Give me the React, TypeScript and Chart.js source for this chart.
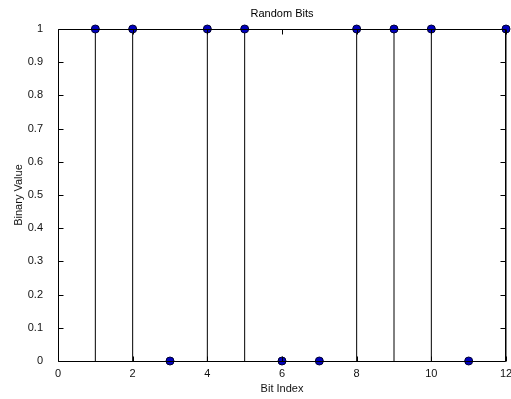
import React, { useEffect, useRef } from "react";
import { Chart, registerables } from "chart.js";

Chart.register(...registerables);

const chartTitle = "Random Bits";
const bitIndex = [1, 2, 3, 4, 5, 6, 7, 8, 9, 10, 11, 12];
const bitValues = [1, 1, 0, 1, 1, 0, 0, 1, 1, 1, 0, 1];
const xTickStep = 2;
const yTickStep = 0.1;

const FONT = "'Liberation Sans', Arial, sans-serif";

const boxTicksPlugin = {
  id: "boxTicks",
  afterDatasetsDraw(chart: any) {
    const { ctx, chartArea } = chart;
    const { left, right, top, bottom } = chartArea;
    const xs = chart.scales.x;
    const ys = chart.scales.y;
    const L = 5;
    ctx.save();
    ctx.strokeStyle = "#000";
    ctx.lineWidth = 1;
    ctx.beginPath();
    const l = Math.round(left) + 0.5;
    const r = Math.round(right) - 0.5;
    const t = Math.round(top) + 0.5;
    const b = Math.round(bottom) + 0.5;
    ctx.rect(l, t, r - l, b - t);
    for (const tk of xs.ticks) {
      const px = Math.round(xs.getPixelForValue(tk.value)) + 0.5;
      ctx.moveTo(px, b);
      ctx.lineTo(px, b - L);
      ctx.moveTo(px, t);
      ctx.lineTo(px, t + L);
    }
    for (const tk of ys.ticks) {
      const py = Math.round(ys.getPixelForValue(tk.value)) + 0.5;
      ctx.moveTo(l, py);
      ctx.lineTo(l + L, py);
      ctx.moveTo(r, py);
      ctx.lineTo(r - L, py);
    }
    ctx.stroke();
    // title centred over the plot area
    ctx.fillStyle = "#000";
    ctx.font = `11px ${FONT}`;
    ctx.textAlign = "center";
    ctx.textBaseline = "middle";
    ctx.fillText(chartTitle, (left + right) / 2, 13.5);
    ctx.restore();
  },
};

export default function App() {
  const ref = useRef<HTMLCanvasElement>(null);
  useEffect(() => {
    document.body.style.margin = "0";
    const stemSets = bitIndex.map((x, i) => ({
      type: "line" as const,
      data: [
        { x, y: 0 },
        { x, y: bitValues[i] },
      ],
      borderColor: "#000",
      borderWidth: 1,
      pointRadius: 0,
      fill: false,
      clip: false as any,
      order: 2,
    }));
    const chart = new Chart(ref.current!, {
      type: "scatter",
      data: {
        datasets: [
          ...stemSets,
          {
            type: "scatter" as const,
            data: bitIndex.map((x, i) => ({ x, y: bitValues[i] })),
            backgroundColor: "#0000c0",
            borderColor: "#000030",
            borderWidth: 1,
            pointRadius: 4,
            clip: false as any,
            order: 1,
          },
        ] as any,
      },
      options: {
        animation: false,
        responsive: false,
        layout: { padding: { left: 0, right: 4, top: 29, bottom: 0 } },
        plugins: {
          legend: { display: false },
          tooltip: { enabled: false },
          title: { display: false },
        },
        scales: {
          x: {
            type: "linear",
            min: 0,
            max: 12,
            grid: { display: false },
            border: { display: false },
            ticks: {
              stepSize: xTickStep,
              color: "#111",
              padding: -2,
              maxRotation: 0,
              font: { family: FONT, size: 11 },
            },
            title: {
              display: true,
              text: "Bit Index",
              color: "#111",
              font: { family: FONT, size: 11 },
              padding: { top: 0, bottom: 3 },
            },
            afterFit(scale: any) {
              scale.height = 38;
              scale.paddingLeft = 0;
              scale.paddingRight = 0;
            },
          },
          y: {
            type: "linear",
            min: 0,
            max: 1,
            grid: { display: false },
            border: { display: false },
            ticks: {
              stepSize: yTickStep,
              color: "#111",
              padding: 7,
              font: { family: FONT, size: 11 },
              callback: (v: any) => String(Number(Number(v).toFixed(1))),
            },
            title: {
              display: true,
              text: "Binary Value",
              color: "#111",
              font: { family: FONT, size: 11 },
              padding: { top: 12, bottom: 0 },
            },
            afterFit(scale: any) {
              scale.width = 58;
              scale.paddingTop = 0;
              scale.paddingBottom = 0;
            },
          },
        },
      },
      plugins: [boxTicksPlugin],
    });
    return () => chart.destroy();
  }, []);
  return (
    <div style={{ width: 511, height: 399, background: "#fff" }}>
      <canvas ref={ref} width={511} height={399} style={{ display: "block" }} />
    </div>
  );
}
